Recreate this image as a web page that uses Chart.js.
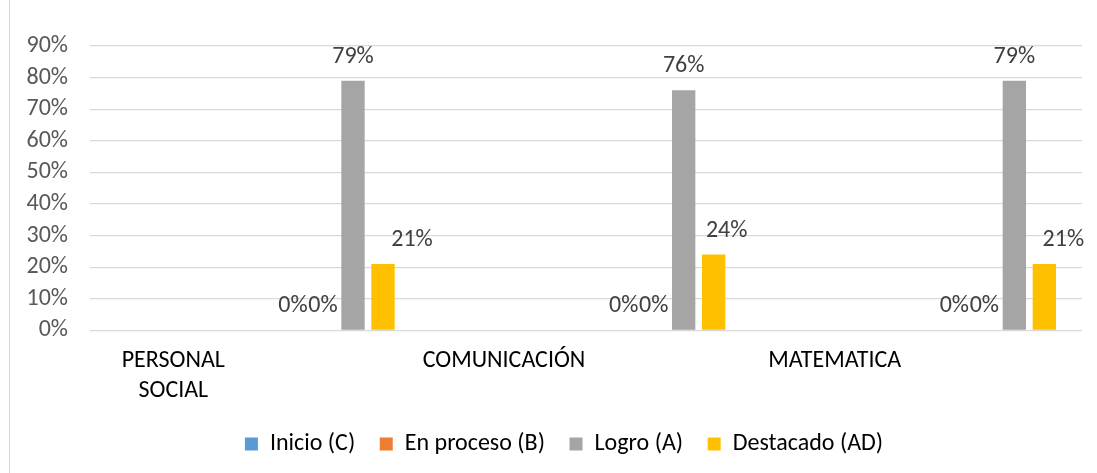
<!DOCTYPE html>
<html><head><meta charset="utf-8">
<script src="https://cdn.jsdelivr.net/npm/chart.js@4"></script>
<style>
html,body{margin:0;padding:0;background:#fff;}
#wrap{position:relative;width:1097px;height:473px;}
#frame{position:absolute;left:9px;top:0;width:1px;height:473px;background:#d9d9d9;}
canvas{position:absolute;left:0;top:0;}
</style></head><body>
<div id="wrap"><canvas id="c" width="1097" height="473"></canvas><div id="frame"></div></div>
<script>
// ---- data ----
const categories = [['PERSONAL', 'SOCIAL'], 'COMUNICACIÓN', 'MATEMATICA'];
const seriesNames = ['Inicio (C)', 'En proceso (B)', 'Logro (A)', 'Destacado (AD)'];
const inicio = [0, 0, 0];
const enProceso = [0, 0, 0];
const logro = [79, 76, 79];
const destacado = [21, 24, 21];
const yTickValues = [0, 10, 20, 30, 40, 50, 60, 70, 80, 90];

// ---- style ----
const FONT = "Carlito, Lato, 'Open Sans', sans-serif";
const FS = 24;
const colors = ['#5B9BD5', '#ED7D31', '#A5A5A5', '#FFC000'];
const labelNudge = [[0, 0, 0], [0, 0, 0], [0, 0, 0], [29, 13, 19]];

const seriesValues = [inicio, enProceso, logro, destacado];

const valueLabels = {
  id: 'valueLabels',
  afterDatasetsDraw(chart, args, opts) {
    const ctx = chart.ctx;
    ctx.save();
    ctx.font = opts.size + 'px ' + FONT;
    ctx.fillStyle = opts.color;
    ctx.textAlign = 'center';
    ctx.textBaseline = 'alphabetic';
    chart.data.datasets.forEach((ds, di) => {
      const meta = chart.getDatasetMeta(di);
      meta.data.forEach((bar, i) => {
        const v = ds.data[i].y;
        const dx = (labelNudge[di] || [])[i] || 0;
        ctx.fillText(v + '%', bar.x + dx, bar.y - opts.gap);
      });
    });
    ctx.restore();
  }
};

new Chart(document.getElementById('c'), {
  type: 'bar',
  data: {
    labels: categories,
    datasets: seriesValues.map((vals, s) => ({
      label: seriesNames[s],
      data: vals.map((v, i) => ({ x: i, y: v })),
      backgroundColor: colors[s],
      borderWidth: 0,
      xAxisID: 'xb',
      yAxisID: 'y',
      categoryPercentage: 0.363,
      barPercentage: 0.778
    }))
  },
  plugins: [valueLabels],
  options: {
    responsive: false,
    animation: false,
    layout: { padding: { left: 20, right: -11, top: 46, bottom: 7 } },
    scales: {
      xb: {
        type: 'linear', min: -0.75, max: 2.25, display: false, offset: false,
        afterBuildTicks: ax => { ax.ticks = categories.map((c, i) => ({ value: i })); }
      },
      x: {
        type: 'category', labels: categories, offset: true, position: 'bottom',
        grid: { display: false, drawTicks: false },
        border: { display: false },
        ticks: { font: { family: FONT, size: FS, lineHeight: 1.25 }, color: '#000', labelOffset: -82, padding: 16, maxRotation: 0, autoSkip: false },
        afterFit: ax => { ax.height = 77; }
      },
      y: {
        min: 0, max: 90,
        afterBuildTicks: ax => { ax.ticks = yTickValues.map(v => ({ value: v })); },
        ticks: { callback: v => v + '%', padding: 22, color: '#595959', font: { family: FONT, size: FS }, autoSkip: false },
        grid: { color: '#d9d9d9', drawTicks: false, lineWidth: 1.3 },
        border: { display: false },
        afterFit: ax => { ax.width = 70; }
      },
      yr: {
        position: 'right', display: true,
        ticks: { display: false },
        grid: { display: false, drawTicks: false },
        border: { display: false },
        afterFit: ax => { ax.width = 26; }
      }
    },
    plugins: {
      legend: {
        position: 'bottom',
        labels: { boxWidth: 13, boxHeight: 13, padding: 24.6, color: '#000', font: { family: FONT, size: FS } }
      },
      tooltip: { enabled: false },
      valueLabels: { size: FS, color: '#404040', gap: 18 }
    }
  }
});
</script>
</body></html>
